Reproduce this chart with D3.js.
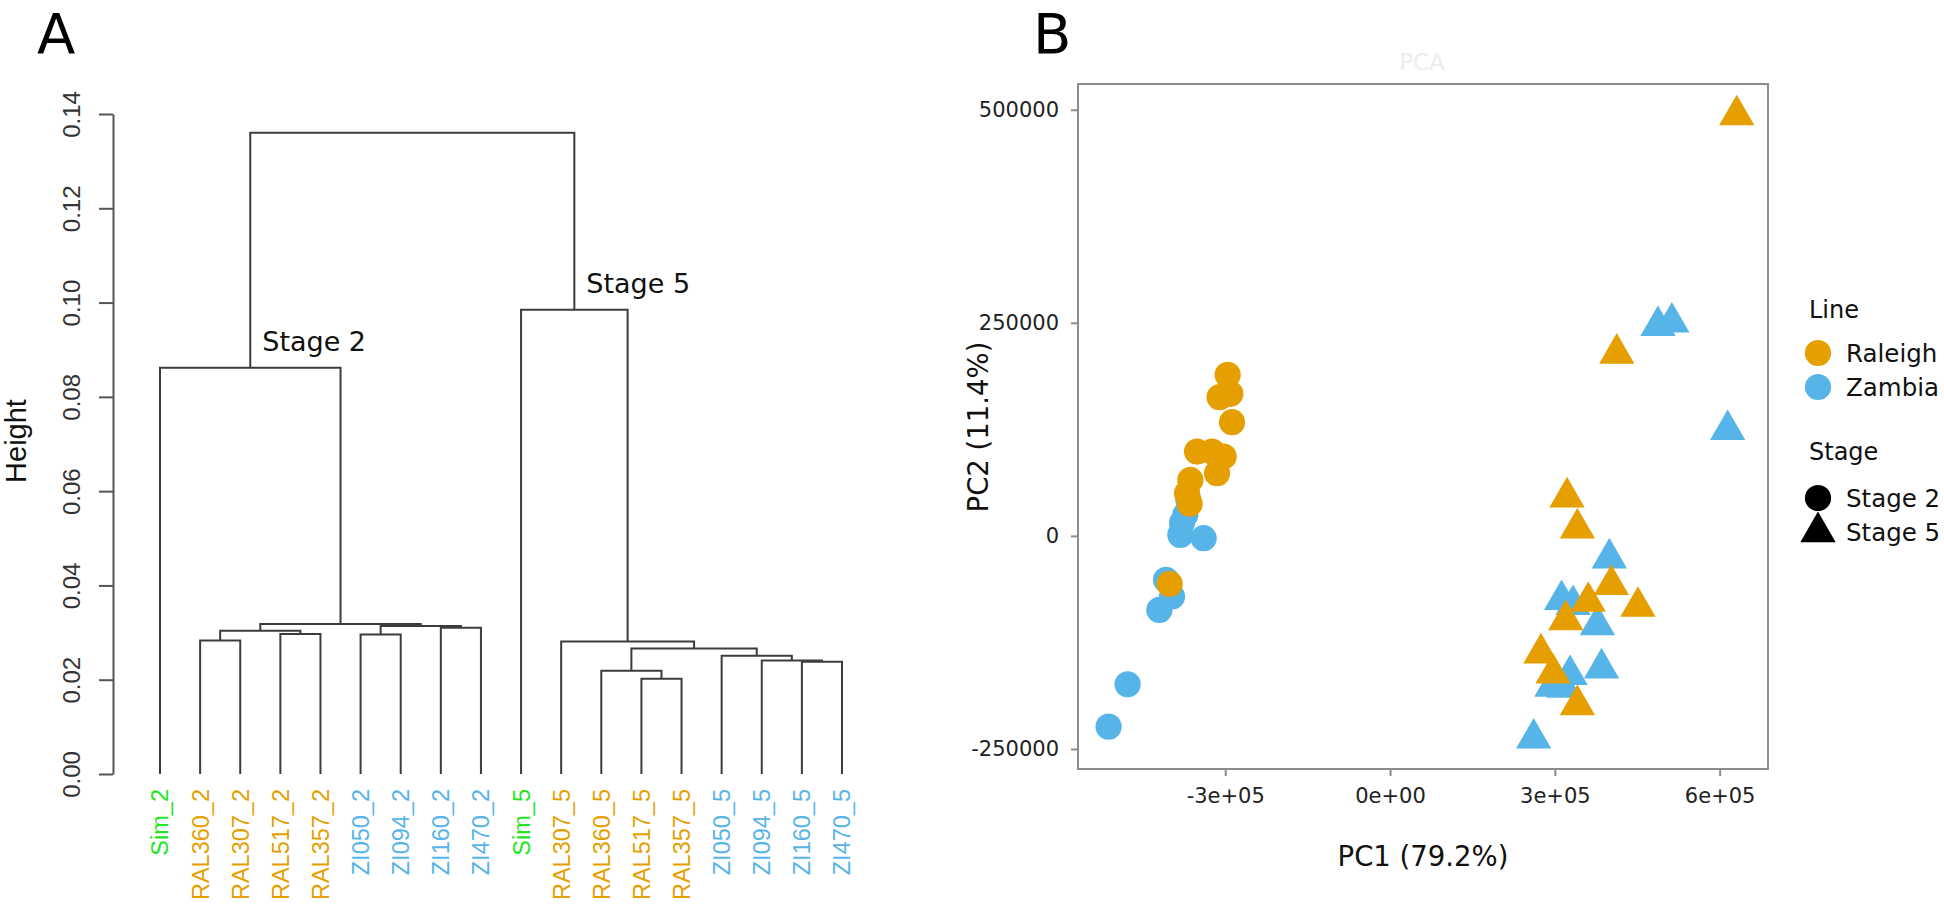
<!DOCTYPE html>
<html><head><meta charset="utf-8">
<script src="https://cdn.jsdelivr.net/npm/d3@7"></script>
<style>body{margin:0;background:#fff}svg{display:block}</style>
</head><body><svg id="c" width="1944" height="906"></svg>
<script>
// ---------- Panel A data: hierarchical clustering ----------
const leafLabels = ["Sim_2","RAL360_2","RAL307_2","RAL517_2","RAL357_2","ZI050_2","ZI094_2","ZI160_2","ZI470_2",
                    "Sim_5","RAL307_5","RAL360_5","RAL517_5","RAL357_5","ZI050_5","ZI094_5","ZI160_5","ZI470_5"];
const leafGroups = ["Sim","Raleigh","Raleigh","Raleigh","Raleigh","Zambia","Zambia","Zambia","Zambia",
                    "Sim","Raleigh","Raleigh","Raleigh","Raleigh","Zambia","Zambia","Zambia","Zambia"];
// hclust-style merges: negative = leaf (1-based), positive = earlier merge step
const mergeLeft   = [-13, -12, -17, -16, -15,  2, -11,  -2,  -6,  -4,   8, -8,   9,  11,  -1, -10, 15];
const mergeRight  = [-14,   1, -18,   3,   4,  5,   6,  -3,  -7,  -5,  10, -9,  12,  13,  14,   7, 16];
const mergeHeight = [0.0202,0.0219,0.0238,0.0241,0.0251,0.0266,0.0281,0.0283,0.0296,0.0297,0.0304,0.0310,0.0314,0.0318,0.0862,0.0985,0.1360];
const clusterLabelMerge = [15, 16];
const clusterLabelText = ["Stage 2", "Stage 5"];
const heightTicks = [0, 0.02, 0.04, 0.06, 0.08, 0.10, 0.12, 0.14];

// ---------- Panel B data: PCA ----------
const pcaLine  = ["Zambia","Zambia","Zambia","Zambia","Zambia","Zambia","Zambia","Zambia","Zambia","Zambia",
                  "Raleigh","Raleigh","Raleigh","Raleigh","Raleigh","Raleigh","Raleigh","Raleigh","Raleigh","Raleigh","Raleigh","Raleigh",
                  "Zambia","Zambia","Zambia","Zambia","Zambia","Zambia","Zambia","Zambia","Zambia","Zambia","Zambia","Zambia",
                  "Raleigh","Raleigh","Raleigh","Raleigh","Raleigh","Raleigh","Raleigh","Raleigh","Raleigh","Raleigh","Raleigh"];
const pcaStage = ["Stage 2","Stage 2","Stage 2","Stage 2","Stage 2","Stage 2","Stage 2","Stage 2","Stage 2","Stage 2",
                  "Stage 2","Stage 2","Stage 2","Stage 2","Stage 2","Stage 2","Stage 2","Stage 2","Stage 2","Stage 2","Stage 2","Stage 2",
                  "Stage 5","Stage 5","Stage 5","Stage 5","Stage 5","Stage 5","Stage 5","Stage 5","Stage 5","Stage 5","Stage 5","Stage 5",
                  "Stage 5","Stage 5","Stage 5","Stage 5","Stage 5","Stage 5","Stage 5","Stage 5","Stage 5","Stage 5","Stage 5"];
const pc1 = [-367200,-372800,-378600,-381700,-339300,-407800,-396900,-420000,-477700,-512300,
             -295600,-310200,-290700,-287600,-351300,-324000,-302900,-314900,-363500,-369500,-364800,-401200,
             487700,513000,614600,399200,312200,333100,377400,327700,385000,294500,316600,261400,
             631100,412700,322200,341000,402900,451300,360800,320000,274700,296700,341000];
const pc2 = [42300,24600,15300,1200,-2700,-51600,-71200,-86900,-174100,-223800,
             189000,162800,166700,133400,98900,98900,93100,73600,65700,50100,37600,-56300,
             246500,250500,124400,-26200,-75100,-81000,-104500,-163100,-155300,-176900,-178000,-237500,
             493800,214000,45400,9000,-57500,-82900,-77100,-98600,-137700,-161200,-198400];
const pc1Ticks = [-300000, 0, 300000, 600000];
const pc1TickLabels = ["-3e+05","0e+00","3e+05","6e+05"];
const pc2Ticks = [-250000, 0, 250000, 500000];
const pc2TickLabels = ["-250000","0","250000","500000"];
const lineLevels = ["Raleigh","Zambia"];
const stageLevels = ["Stage 2","Stage 5"];

const svg = d3.select("#c");
const groupColor = d3.scaleOrdinal().domain(["Sim","Raleigh","Zambia"]).range(["#1fe61f","#E69F00","#56B4E9"]);
const lineColor = d3.scaleOrdinal().domain(lineLevels).range(["#E69F00","#56B4E9"]);
const stageShape = d3.scaleOrdinal().domain(stageLevels).range([d3.symbolCircle, d3.symbolTriangle]);
const SYM_AREA = 540;

// ---------- Panel A ----------
const A = svg.append("g");
A.append("text").attr("x",37).attr("y",53).attr("font-family","DejaVu Sans").attr("font-size",56).text("A");

const xA = d3.scalePoint().domain(leafLabels).range([160, 842]);
const yA = d3.scaleLinear().domain([0, 0.14]).range([774, 114]);

const nodes = [];
const pos = i => i < 0 ? {x: xA(leafLabels[-i-1]), h: 0} : nodes[i-1];
mergeLeft.forEach((l, k) => {
  const a = pos(l), b = pos(mergeRight[k]);
  nodes.push({x: (a.x + b.x) / 2, h: mergeHeight[k], a, b});
});
A.append("g").selectAll("path").data(nodes).join("path")
  .attr("d", n => `M${n.a.x},${yA(n.a.h)}V${yA(n.h)}H${n.b.x}V${yA(n.b.h)}`)
  .attr("fill","none").attr("stroke","#3c3c3c").attr("stroke-width",2);

clusterLabelMerge.forEach((m, i) => {
  const n = nodes[m-1];
  A.append("text").attr("x", n.x + 12).attr("y", yA(n.h) - 17)
    .attr("font-family","DejaVu Sans").attr("font-size",27).attr("fill","#111").text(clusterLabelText[i]);
});

const axA = A.append("g").attr("transform","translate(113,0)")
  .call(d3.axisLeft(yA).tickValues(heightTicks).tickSize(14).tickSizeOuter(0).tickFormat(d3.format(".2f")));
axA.select(".domain").attr("stroke","#555").attr("stroke-width",2);
axA.selectAll(".tick line").attr("stroke","#555").attr("stroke-width",2);
axA.selectAll(".tick text").attr("transform","rotate(-90)").attr("x",0).attr("y",-33).attr("dy",0)
  .attr("text-anchor","middle").attr("font-family","Liberation Sans").attr("font-size",24).attr("fill","#333");
A.append("text").attr("transform","translate(26,441) rotate(-90)").attr("text-anchor","middle")
  .attr("font-family","Liberation Sans").attr("font-size",29).attr("fill","#111").text("Height");

A.append("g").selectAll("text").data(leafLabels).join("text")
  .attr("transform", d => `translate(${xA(d)},789) rotate(-90)`)
  .attr("dy","0.36em").attr("text-anchor","end")
  .attr("font-family","Liberation Sans").attr("font-size",23.5)
  .attr("fill", (d, i) => groupColor(leafGroups[i])).text(d => d);

// ---------- Panel B ----------
const B = svg.append("g");
B.append("text").attr("x",1033).attr("y",53).attr("font-family","DejaVu Sans").attr("font-size",56).text("B");
B.append("text").attr("x",1422).attr("y",70).attr("text-anchor","middle").attr("font-family","DejaVu Sans")
  .attr("font-size",23).attr("fill","#eeeeee").text("PCA");

const xB = d3.scaleLinear().domain([-568000, 688000]).range([1078, 1768]);
const yB = d3.scaleLinear().domain([-273500, 530200]).range([769, 84]);

const pts = pc1.map((v, i) => ({x: v, y: pc2[i], line: pcaLine[i], stage: pcaStage[i]}));
B.append("g").selectAll("path").data(pts).join("path")
  .attr("transform", d => `translate(${xB(d.x)},${yB(d.y)})`)
  .attr("d", d => d3.symbol().type(stageShape(d.stage)).size(SYM_AREA)())
  .attr("fill", d => lineColor(d.line));

B.append("rect").attr("x",1078).attr("y",84).attr("width",690).attr("height",685)
  .attr("fill","none").attr("stroke","#8c8c8c").attr("stroke-width",2);

const axBx = B.append("g").attr("transform","translate(0,769)")
  .call(d3.axisBottom(xB).tickValues(pc1Ticks).tickSize(7).tickPadding(12).tickFormat((d,i) => pc1TickLabels[i]));
axBx.select(".domain").remove();
axBx.selectAll(".tick line").attr("stroke","#8c8c8c").attr("stroke-width",2);
axBx.selectAll(".tick text").attr("font-family","DejaVu Sans").attr("font-size",21).attr("fill","#222");

const axBy = B.append("g").attr("transform","translate(1078,0)")
  .call(d3.axisLeft(yB).tickValues(pc2Ticks).tickSize(7).tickPadding(12).tickFormat((d,i) => pc2TickLabels[i]));
axBy.select(".domain").remove();
axBy.selectAll(".tick line").attr("stroke","#8c8c8c").attr("stroke-width",2);
axBy.selectAll(".tick text").attr("font-family","DejaVu Sans").attr("font-size",21).attr("fill","#222");

B.append("text").attr("x",1423).attr("y",866).attr("text-anchor","middle")
  .attr("font-family","DejaVu Sans").attr("font-size",27.5).attr("fill","#111").text("PC1 (79.2%)");
B.append("text").attr("transform","translate(988,427) rotate(-90)").attr("text-anchor","middle")
  .attr("font-family","DejaVu Sans").attr("font-size",27.5).attr("fill","#111").text("PC2 (11.4%)");

// legend
const L = B.append("g").attr("font-family","DejaVu Sans");
L.append("text").attr("x",1809).attr("y",318).attr("font-size",24).attr("fill","#111").text("Line");
lineLevels.forEach((lv, i) => {
  const y = 353 + i * 34;
  L.append("path").attr("transform",`translate(1818,${y})`).attr("d", d3.symbol().type(d3.symbolCircle).size(SYM_AREA)()).attr("fill", lineColor(lv));
  L.append("text").attr("x",1846).attr("y",y).attr("dy","0.36em").attr("font-size",24.5).attr("fill","#111").text(lv);
});
L.append("text").attr("x",1809).attr("y",460).attr("font-size",24).attr("fill","#111").text("Stage");
stageLevels.forEach((st, i) => {
  const y = 498 + i * 34;
  L.append("path").attr("transform",`translate(1818,${y})`).attr("d", d3.symbol().type(stageShape(st)).size(SYM_AREA)()).attr("fill","#000");
  L.append("text").attr("x",1846).attr("y",y).attr("dy","0.36em").attr("font-size",24.5).attr("fill","#111").text(st);
});
</script></body></html>
